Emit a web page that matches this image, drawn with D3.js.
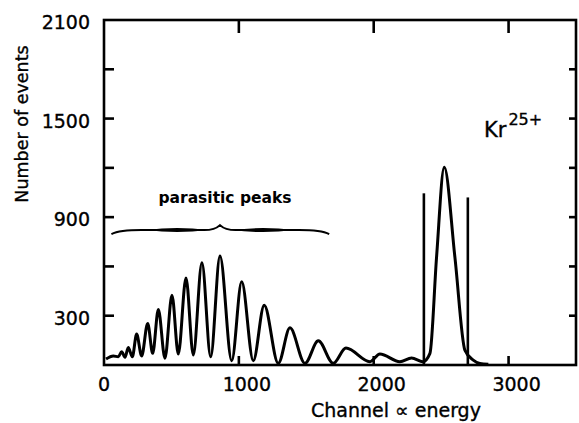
<!DOCTYPE html>
<html>
<head>
<meta charset="utf-8">
<script src="https://cdn.jsdelivr.net/npm/d3@7"></script>
<style>
  body { margin: 0; background: #fff; }
  text { font-family: "DejaVu Sans", sans-serif; fill: #000; stroke: #000; stroke-width: 0.35px; }
</style>
</head>
<body>
<div id="chart"></div>
<script>
// Data_________________________________________________________
const channel = [15, 69, 106, 131, 156, 180, 210, 242, 279, 324, 361, 403, 452, 504, 551, 608, 662, 726, 791, 860,
                 947, 1021, 1107, 1188, 1292, 1379, 1490, 1589, 1700, 1794, 1972, 2046, 2194, 2281, 2365,
                 2417, 2466, 2523, 2602, 2676, 2738, 2787, 2850];
const counts = [36, 55, 50, 81, 47, 107, 50, 188, 55, 253, 71, 338, 41, 425, 67, 530, 61, 623, 50, 663,
                26, 506, 26, 364, 10, 226, 10, 147, 10, 103, 20, 67, 20, 42, 20,
                71, 657, 1204, 657, 91, 30, 10, 5];

// gate lines around the Kr25+ peak
const gateChannels = [2372, 2698];
const gateTops = [1045, 1020];

const xTickValues = [0, 1000, 2000, 3000];
const yTickValues = [300, 600, 900, 1200, 1500, 1800];
const yLabelValues = [300, 900, 1500, 2100];

// brace over the parasitic peaks: from, tip, to (channel) and level (events)
const braceChannels = [55, 860, 1670];
const braceLevel = 815;

// Sizes______________________________________________________
const width = 579;
const height = 423;

const svg = d3.select('#chart')
    .append('svg')
    .attr('width', width)
    .attr('height', height);

svg.append('rect').attr('width', width).attr('height', height).attr('fill', '#fff');

const xScale = d3.scaleLinear()
    .domain([0, 3500])
    .range([104, 576]);
const yScale = d3.scaleLinear()
    .domain([0, 2100])
    .range([365, 20]);

const x0 = xScale.range()[0], x1 = xScale.range()[1];
const yb = yScale.range()[0], yt = yScale.range()[1];

// Frame______________________________________________________
svg.append('rect')
    .attr('x', x0).attr('y', yt)
    .attr('width', x1 - x0).attr('height', yb - yt)
    .attr('fill', 'none')
    .attr('stroke', '#000')
    .attr('stroke-width', 2.6);

// inward ticks
const ticks = svg.append('g').attr('stroke', '#000').attr('stroke-width', 2.6);
ticks.selectAll('.yl').data(yTickValues).enter().append('line')
    .attr('x1', x0).attr('x2', x0 + 10)
    .attr('y1', d => yScale(d)).attr('y2', d => yScale(d));
ticks.selectAll('.yr').data(yTickValues).enter().append('line')
    .attr('x1', x1).attr('x2', x1 - 7)
    .attr('y1', d => yScale(d)).attr('y2', d => yScale(d));
ticks.selectAll('.xt').data(xTickValues.slice(1)).enter().append('line')
    .attr('x1', d => xScale(d)).attr('x2', d => xScale(d))
    .attr('y1', yt).attr('y2', yt + 13);
ticks.selectAll('.xb').data(xTickValues.slice(1)).enter().append('line')
    .attr('x1', d => xScale(d)).attr('x2', d => xScale(d))
    .attr('y1', yb).attr('y2', yb - 9);

// Tick labels________________________________________________
svg.append('g').selectAll('text')
    .data(yLabelValues).enter().append('text')
    .attr('x', 90)
    .attr('y', d => yScale(d) + 9)
    .attr('text-anchor', 'end')
    .attr('font-size', 19)
    .text(d => d);

svg.append('g').selectAll('text')
    .data(xTickValues).enter().append('text')
    .attr('x', d => xScale(d) + (d > 0 ? 8 : 0))
    .attr('y', 391)
    .attr('text-anchor', 'middle')
    .attr('font-size', 19)
    .text(d => d);

// Axis titles
svg.append('text')
    .attr('transform', 'translate(28, 124) rotate(-90)')
    .attr('text-anchor', 'middle')
    .attr('font-size', 17.5)
    .text('Number of events');

svg.append('text')
    .attr('x', 396).attr('y', 417)
    .attr('text-anchor', 'middle')
    .attr('font-size', 19)
    .text('Channel \u221D energy');

// Spectrum___________________________________________________
const line = d3.line()
    .x((d, i) => xScale(channel[i]))
    .y(d => yScale(d))
    .curve(d3.curveMonotoneX);

svg.append('path')
    .datum(counts)
    .attr('d', line)
    .attr('fill', 'none')
    .attr('stroke', '#000')
    .attr('stroke-width', 3)
    .attr('stroke-linejoin', 'round');

svg.append('g').selectAll('line')
    .data(gateChannels).enter().append('line')
    .attr('x1', d => xScale(d)).attr('x2', d => xScale(d))
    .attr('y1', yb).attr('y2', (d, i) => yScale(gateTops[i]))
    .attr('stroke', '#000')
    .attr('stroke-width', 2.6);

// Annotations________________________________________________
const bx1 = xScale(braceChannels[0]);
const bxm = xScale(braceChannels[1]);
const bx2 = xScale(braceChannels[2]);
const by = yScale(braceLevel);

svg.append('path')
    .attr('d', `M${bx1},${by + 3} Q${bx1 + 8},${by - 1} ${bx1 + 30},${by - 1}
                L${bxm - 16},${by - 1} Q${bxm - 5},${by - 1} ${bxm},${by - 6}
                Q${bxm + 5},${by - 1} ${bxm + 16},${by - 1}
                L${bx2 - 30},${by - 1} Q${bx2 - 8},${by - 1} ${bx2},${by + 3}`)
    .attr('fill', 'none')
    .attr('stroke', '#000')
    .attr('stroke-width', 2);

// thicker middle parts of the brace arms
[[bx1 + 35, bxm - 12], [bxm + 12, bx2 - 35]].forEach(([a, b]) => {
    const m = (a + b) / 2;
    svg.append('path')
        .attr('d', `M${a},${by - 1} Q${m},${by - 5} ${b},${by - 1} Q${m},${by + 3} ${a},${by - 1}Z`)
        .attr('fill', '#000');
});

svg.append('text')
    .attr('x', 225).attr('y', 203)
    .attr('text-anchor', 'middle')
    .attr('font-size', 15.5)
    .attr('font-weight', 'bold')
    .style('stroke-width', '0px')
    .text('parasitic peaks');

const kr = svg.append('text')
    .attr('x', 484).attr('y', 137)
    .attr('font-size', 21);
kr.append('tspan').text('Kr');
kr.append('tspan').attr('dy', -12).attr('dx', 2).attr('font-size', 16).text('25+');
</script>
</body>
</html>
